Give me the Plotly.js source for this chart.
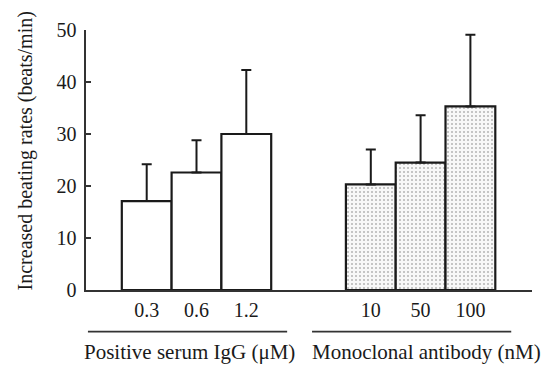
<!DOCTYPE html>
<html>
<head>
<meta charset="utf-8">
<script src="https://cdn.plot.ly/plotly-3.0.1.min.js"></script>
<style>html,body{margin:0;padding:0;background:#fff;}#chart{width:544px;height:365px;}</style>
</head>
<body>
<div id="chart"></div>
<script>
// Data
const iggDoses = ['0.3', '0.6', '1.2'];
const iggMeans = [17.1, 22.6, 30.0];
const iggErrors = [7.1, 6.2, 12.3];

const mabDoses = ['10', '50', '100'];
const mabMeans = [20.3, 24.5, 35.3];
const mabErrors = [6.7, 9.1, 13.8];

const groupLabels = ['Positive serum IgG (\u03bcM)', 'Monoclonal antibody (nM)'];
const yTicks = [0, 10, 20, 30, 40, 50];
const yTitle = 'Increased beating rates (beats/min)';

// positions (numeric x-axis to allow the gap between groups)
const iggX = [1, 2, 3];
const mabX = [5.5, 6.5, 7.5];

const font = 'Liberation Serif, Times New Roman, serif';
const ink = '#1a1a1a';

const errStyle = (arr) => ({
  type: 'data', array: arr, arrayminus: arr.map(() => 0), symmetric: false,
  visible: true, color: ink, thickness: 2, width: 5
});

const traces = [
  {
    type: 'bar', x: iggX, y: iggMeans, width: 1,
    marker: {color: '#ffffff', line: {color: ink, width: 2.2}},
    error_y: errStyle(iggErrors), hoverinfo: 'skip'
  },
  {
    type: 'bar', x: mabX, y: mabMeans, width: 1,
    marker: {color: '#ffffff', line: {color: ink, width: 2.2},
      pattern: {shape: '.', fgcolor: '#b4b4b4', bgcolor: '#f8f8f8', size: 4, solidity: 0.2}},
    error_y: errStyle(mabErrors), hoverinfo: 'skip'
  }
];

const lineY = -0.16;
const labelY = -0.240;
const labelShift = [-0.15, 0.11];
const groups = [iggX, mabX];
const shapes = groups.map(g => ({
  type: 'line', xref: 'x', yref: 'paper',
  x0: g[0] - 1.18, x1: g[g.length - 1] + 0.82, y0: lineY, y1: lineY,
  line: {color: '#333', width: 1.6}
}));
const annotations = groups.map((g, i) => ({
  xref: 'x', yref: 'paper', x: (g[0] + g[g.length - 1]) / 2 + labelShift[i], y: labelY,
  text: groupLabels[i], showarrow: false, xanchor: 'center', yanchor: 'middle',
  font: {family: font, size: 21, color: ink}
}));
annotations.push({
  xref: 'paper', yref: 'paper', x: -0.135, y: 0.536, textangle: -90,
  text: yTitle, showarrow: false, xanchor: 'center', yanchor: 'middle',
  font: {family: font, size: 20, color: ink}
});

const layout = {
  width: 544, height: 365,
  margin: {l: 86, r: 12, t: 30, b: 75},
  paper_bgcolor: '#fff', plot_bgcolor: '#fff',
  showlegend: false,
  barmode: 'overlay',
  font: {family: font, color: ink},
  xaxis: {
    range: [-0.219, 8.737], showgrid: false, zeroline: false,
    showline: true, linecolor: '#333', linewidth: 1.6,
    tickmode: 'array', tickvals: iggX.concat(mabX), ticktext: iggDoses.concat(mabDoses),
    ticks: '', tickfont: {family: font, size: 20, color: ink}, ticklabelstandoff: 1
  },
  yaxis: {
    range: [0, 50], showgrid: false, zeroline: false,
    showline: true, linecolor: '#333', linewidth: 1.6,
    tickmode: 'array', tickvals: yTicks,
    ticks: 'inside', ticklen: 5, tickwidth: 1.6, tickcolor: '#333',
    tickfont: {family: font, size: 20, color: ink}, ticklabelstandoff: 4
  },
  shapes: shapes,
  annotations: annotations
};

Plotly.newPlot('chart', traces, layout, {staticPlot: true, displayModeBar: false});
</script>
</body>
</html>
